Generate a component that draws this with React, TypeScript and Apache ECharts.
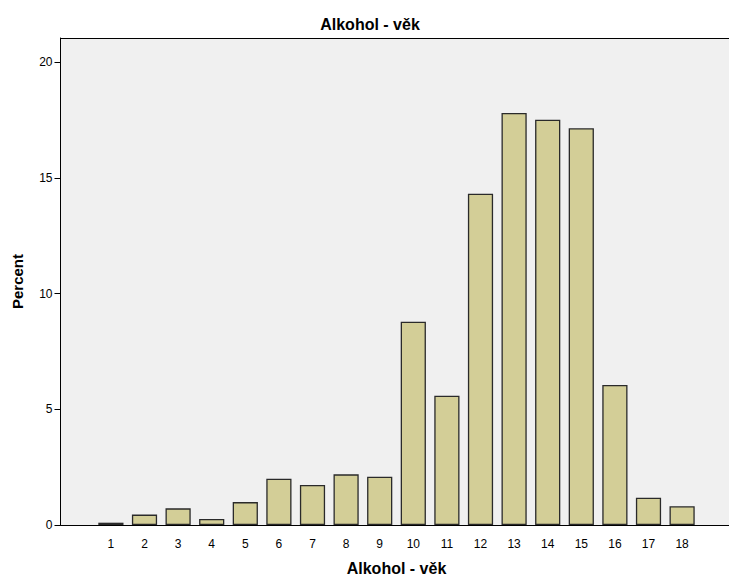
import React, { useEffect, useRef } from "react";
import * as echarts from "echarts";

const categories = ["", "1", "2", "3", "4", "5", "6", "7", "8", "9", "10", "11", "12", "13", "14", "15", "16", "17", "18", ""];
const percentValues: (number | null)[] = [null, 0.1, 0.45, 0.72, 0.26, 0.99, 2.0, 1.73, 2.19, 2.09, 8.79, 5.59, 14.32, 17.81, 17.52, 17.15, 6.05, 1.18, 0.81, null];
const yTicks = [0, 5, 10, 15, 20];
const titleText = "Alkohol - věk";
const xName = "Alkohol - věk";
const yName = "Percent";

export default function App() {
  const ref = useRef<HTMLDivElement>(null);
  useEffect(() => {
    if (!ref.current) return;
    const chart = echarts.init(ref.current, null, { renderer: "svg" });
    const font = "Liberation Sans, Arial, sans-serif";
    chart.setOption({
      animation: false,
      textStyle: { fontFamily: font },
      title: {
        text: titleText,
        left: 365,
        top: 11,
        textAlign: "center",
        textStyle: { fontFamily: font, fontSize: 16, fontWeight: "bold", color: "#000" },
      },
      grid: {
        left: 60.5,
        right: -3.5,
        top: 38,
        bottom: 53,
        show: true,
        outerBoundsMode: "none",
        containLabel: false,
        backgroundColor: "#f0f0f0",
        borderWidth: 0,
      },
      xAxis: [
        {
          type: "category",
          data: categories,
          name: xName,
          nameLocation: "middle",
          nameGap: 35,
          nameTextStyle: { fontFamily: font, fontSize: 16, fontWeight: "bold", color: "#000" },
          axisLine: { lineStyle: { color: "#000", width: 1 } },
          axisTick: {
            alignWithLabel: true,
            length: 7,
            lineStyle: { color: "#000" },
            interval: (i: number, v: string) => v !== "",
          },
          axisLabel: { color: "#000", fontSize: 12, margin: 13, interval: 0 },
        },
        {
          type: "category",
          data: categories,
          position: "top",
          axisLine: { show: true, lineStyle: { color: "#000", width: 1 } },
          axisTick: { show: false },
          axisLabel: { show: false },
        },
      ],
      yAxis: {
        type: "value",
        min: 0,
        max: 21.05,
        name: yName,
        nameLocation: "middle",
        nameGap: 36,
        nameTextStyle: { fontFamily: font, fontSize: 15, fontWeight: "bold", color: "#000" },
        axisLine: { show: true, lineStyle: { color: "#000", width: 1 } },
        axisTick: { show: true, length: 6, lineStyle: { color: "#000" }, customValues: yTicks },
        axisLabel: { color: "#000", fontSize: 12, margin: 8, customValues: yTicks },
        splitLine: { show: false },
      },
      series: [
        {
          type: "bar",
          data: percentValues,
          barCategoryGap: "25%",
          itemStyle: { color: "#d3ce97", borderColor: "#2a2a2a", borderWidth: 1.3 },
        },
      ],
    });
    return () => chart.dispose();
  }, []);
  return <div ref={ref} style={{ width: 729, height: 578, position: "absolute", left: 0, top: 0 }} />;
}
